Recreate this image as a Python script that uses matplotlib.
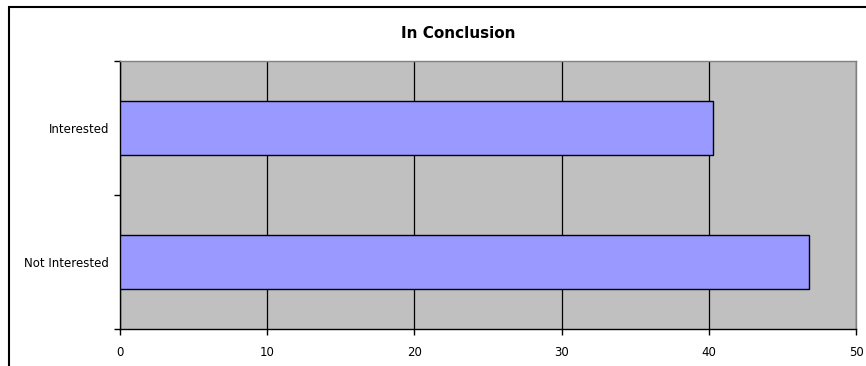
import matplotlib
matplotlib.use('Agg')
from matplotlib import pyplot as plt
from matplotlib.patches import Rectangle

categories = ['Not Interested', 'Interested']
values = [46.8, 40.3]
x_ticks = [0, 10, 20, 30, 40, 50]

W, H = 866, 366
fig = plt.figure(figsize=(W / 100, H / 100), dpi=100)

# outer chart border (right and bottom run off the picture)
fig.patches.append(Rectangle((8.5 / W, -0.1), 2.0, (H - 6.5) / H + 0.1,
                             transform=fig.transFigure, fill=False,
                             edgecolor='black', linewidth=1.5))

ax = fig.add_axes([120 / W, (H - 329) / H, 736 / W, 268 / H])
ax.set_facecolor('#c0c0c0')
ax.barh(range(len(categories)), values, height=0.4, color='#9999ff',
        edgecolor='black', linewidth=1, zorder=3)

ax.set_xlim(0, 50)
ax.set_ylim(-0.5, len(categories) - 0.5)
ax.set_xticks(x_ticks)
ax.set_xticklabels([str(t) for t in x_ticks], fontsize=8.5)
ax.set_yticks([-0.5, 0.5, 1.5])
ax.set_yticklabels([])
ax.set_yticks(range(len(categories)), minor=True)
ax.set_yticklabels(categories, minor=True, fontsize=8.5)
ax.tick_params(axis='y', which='minor', length=0, pad=8)
ax.tick_params(axis='y', which='major', length=4, width=1, direction='out')
ax.tick_params(axis='x', length=4, width=1, direction='out', pad=8)
ax.grid(axis='x', color='black', linewidth=0.9, zorder=1)

for side in ['top', 'right']:
    ax.spines[side].set_color('#808080')
    ax.spines[side].set_linewidth(1)
for side in ['left', 'bottom']:
    ax.spines[side].set_color('black')
    ax.spines[side].set_linewidth(1)

fig.text(458 / W, (H - 34) / H, 'In Conclusion', ha='center', va='center',
         fontsize=11, fontweight='bold')

fig.savefig('out.png', dpi=100)
